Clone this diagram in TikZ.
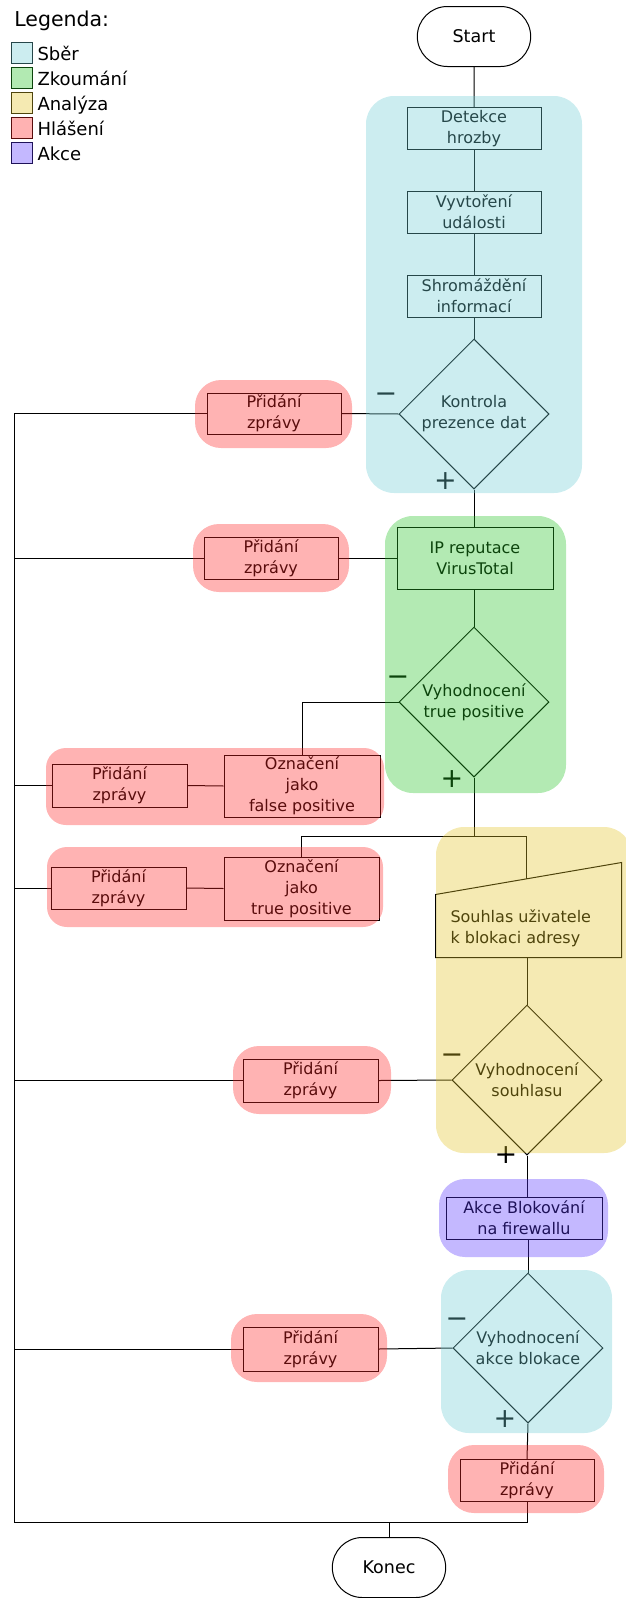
\documentclass[tikz,border=0pt]{standalone}
\usepackage{fontspec}
\setmainfont{DejaVu Sans}
\usepackage{xcolor}
\definecolor{sber}{RGB}{110,204,212}
\definecolor{zkoumani}{RGB}{36,196,36}
\definecolor{analyza}{RGB}{226,196,36}
\definecolor{hlaseni}{RGB}{255,36,36}
\definecolor{akce}{RGB}{87,51,255}
\usetikzlibrary{shapes.geometric,shapes.misc}
\newcommand{\pismo}{\fontsize{16}{21}\selectfont}
\newcommand{\znak}{\fontsize{27}{27}\selectfont}

\begin{document}
\begin{tikzpicture}[x=1pt,y=-1pt,line width=1pt,
	krok/.style={draw,rectangle,align=center,inner sep=1pt,
		minimum width=134pt,minimum height=42pt,font=\pismo},
	rozhodnuti/.style={draw,diamond,aspect=1,inner sep=0pt,align=center,
		minimum width=150pt,minimum height=150pt,font=\pismo},
	terminal/.style={draw,rounded rectangle,minimum width=120pt,
		minimum height=60pt,font=\fontsize{17.5}{20}\selectfont},
	legbox/.style={draw=#1!35!black,fill=#1!35!white,line width=0.9pt,
		minimum size=21pt,inner sep=0pt},
	oblast/.style={fill=#1,fill opacity=0.35,draw=none,rounded corners=26pt}]
	\useasboundingbox (0,0) rectangle (625,1598);
	
	% legenda
	\path
		(10.5,27) node[anchor=base west,font=\fontsize{20.5}{24}\selectfont] (legenda) {Legenda:}
		(21.5,52.5) node[legbox=sber] (lsber) {}
		(21.5,77.5) node[legbox=zkoumani] (lzkoumani) {}
		(21.5,103) node[legbox=analyza] (lanalyza) {}
		(21.5,128) node[legbox=hlaseni] (lhlaseni) {}
		(21.5,153) node[legbox=akce] (lakce) {}
		(37,60) node[anchor=base west,inner sep=0pt,font=\fontsize{18}{20}\selectfont] (tsber) {Sběr}
		(37,85.2) node[anchor=base west,inner sep=0pt,font=\fontsize{18}{20}\selectfont] (tzkoumani) {Zkoumání}
		(37,110.4) node[anchor=base west,inner sep=0pt,font=\fontsize{18}{20}\selectfont] (tanalyza) {Analýza}
		(37,135.6) node[anchor=base west,inner sep=0pt,font=\fontsize{18}{20}\selectfont] (thlaseni) {Hlášení}
		(37,160.8) node[anchor=base west,inner sep=0pt,font=\fontsize{18}{20}\selectfont] (takce) {Akce};
	
	% hlavni vetev
	\node[terminal] (start) at (474,36.5) {Start};
	\node[krok] (detekce) at (474,128.5) {Detekce\\hrozby};
	\node[krok] (vytvoreni) at (474,212) {Vyvtoření\\události};
	\node[krok] (shromazdeni) at (474,296) {Shromáždění\\informací};
	\node[rozhodnuti] (kontrola) at (474,414) {Kontrola\\prezence dat};
	\node[krok,minimum width=156pt,minimum height=62pt] (ip) at (475,558) {IP reputace\\VirusTotal};
	\node[rozhodnuti] (tp) at (474,702) {Vyhodnocení\\true positive};
	\node[minimum width=185pt,minimum height=94pt,inner sep=0pt] (souhlas) at (528.5,910) {};
	\node[anchor=west,align=left,inner sep=0pt,font=\pismo] (souhlastext) at (450,928) {Souhlas uživatele\\k blokaci adresy};
	\node[rozhodnuti] (dsouhlas) at (527,1080) {Vyhodnocení\\souhlasu};
	\node[krok,minimum width=156pt] (blok) at (524,1218) {Akce Blokování\\na firewallu};
	\node[rozhodnuti] (dblok) at (528,1348) {Vyhodnocení\\akce blokace};
	\node[krok] (pridani7) at (527,1480.5) {Přidání\\zprávy};
	\node[terminal] (konec) at (389,1567.5) {Konec};
	
	% hlaseni
	\node[krok,minimum height=41pt] (pridani1) at (274,413.5) {Přidání\\zprávy};
	\node[krok] (pridani2) at (271,558) {Přidání\\zprávy};
	\node[krok,minimum width=156pt,minimum height=62pt] (oznfp) at (302,786) {Označení\\jako\\false positive};
	\node[krok,minimum width=135pt,minimum height=43pt] (pridfp) at (119.5,785.5) {Přidání\\zprávy};
	\node[krok,minimum width=155pt,minimum height=63pt] (ozntp) at (301.5,888.5) {Označení\\jako\\true positive};
	\node[krok,minimum width=135pt] (pridtp) at (118.5,888) {Přidání\\zprávy};
	\node[krok,minimum width=135pt,minimum height=43pt] (pridani5) at (310.5,1080.5) {Přidání\\zprávy};
	\node[krok,minimum width=135pt,minimum height=44pt] (pridani6) at (310.5,1349) {Přidání\\zprávy};
	
	\coordinate (bus) at (14,413);
	\coordinate (rozc) at (474,836);
	\coordinate (souhlasvstup) at (526,879.4);
	\coordinate (spoj) at (389,1522);
	
	\draw (souhlas.south west) -- (souhlas.south east)
		-- (souhlas.north east) -- ([yshift=-32pt]souhlas.north west) -- cycle;
	
	\draw (start) -- (detekce);
	\draw (detekce) -- (vytvoreni);
	\draw (vytvoreni) -- (shromazdeni);
	\draw (shromazdeni) -- (kontrola);
	\draw (kontrola.south) -- (ip.north -| kontrola.south);
	\draw (ip.south -| tp.north) -- (tp.north);
	\draw (tp.south) -- (rozc);
	\draw (ozntp.north) |- (rozc) -| (souhlasvstup);
	\draw (dsouhlas.north |- souhlas.south) -- (dsouhlas.north);
	\draw (dsouhlas.south) -- (dsouhlas.south |- blok.north);
	\draw (dblok.north |- blok.south) -- (dblok.north);
	\draw (dblok.south) -- (pridani7.north);
	\draw (pridani7.south) |- (spoj) -- (spoj -| bus) -- (bus);
	\draw (konec.north) -- (spoj);
	
	\draw (kontrola.west) -- (pridani1.east);
	\draw (pridani1.west) -- (pridani1.west -| bus);
	\draw (ip.west) -- (pridani2.east);
	\draw (pridani2.west) -- (pridani2.west -| bus);
	\draw (tp.west) -| (oznfp.north);
	\draw (oznfp.west) -- (pridfp.east);
	\draw (pridfp.west) -- (pridfp.west -| bus);
	\draw (ozntp.west) -- (pridtp.east);
	\draw (pridtp.west) -- (pridtp.west -| bus);
	\draw (dsouhlas.west) -- (pridani5.east);
	\draw (pridani5.west) -- (pridani5.west -| bus);
	\draw (dblok.west) -- (pridani6.east);
	\draw (pridani6.west) -- (pridani6.west -| bus);
	
	% znamenka
	\path[font=\znak,inner sep=0pt]
		(386,398) node (m1) {−}
		(445.5,481) node (p1) {+}
		(398,681) node (m2) {−}
		(452,779) node (p2) {+}
		(452,1059) node (m3) {−}
		(506,1155) node (p3) {+}
		(457,1323) node (m4) {−}
		(505,1419) node (p4) {+};
	
	% barevne oblasti
	\fill[oblast=sber,rounded corners=28pt] (366,96) rectangle (582,493);
	\fill[oblast=zkoumani,rounded corners=28pt] (385,516) rectangle (566,793);
	\fill[oblast=analyza,rounded corners=28pt] (436,827) rectangle (632,1153);
	\fill[oblast=akce] (439,1179) rectangle (608,1257);
	\fill[oblast=sber,rounded corners=28pt] (441,1270) rectangle (612,1433);
	\fill[oblast=hlaseni] (195,380) rectangle (352,448);
	\fill[oblast=hlaseni] (193,524) rectangle (349,592);
	\fill[oblast=hlaseni,rounded corners=20pt] (46,748) rectangle (384,825);
	\fill[oblast=hlaseni,rounded corners=20pt] (47,847) rectangle (383,927);
	\fill[oblast=hlaseni] (233,1046) rectangle (391,1114);
	\fill[oblast=hlaseni] (231,1314) rectangle (387,1382);
	\fill[oblast=hlaseni] (448,1445) rectangle (604,1513);
\end{tikzpicture}
\end{document}
